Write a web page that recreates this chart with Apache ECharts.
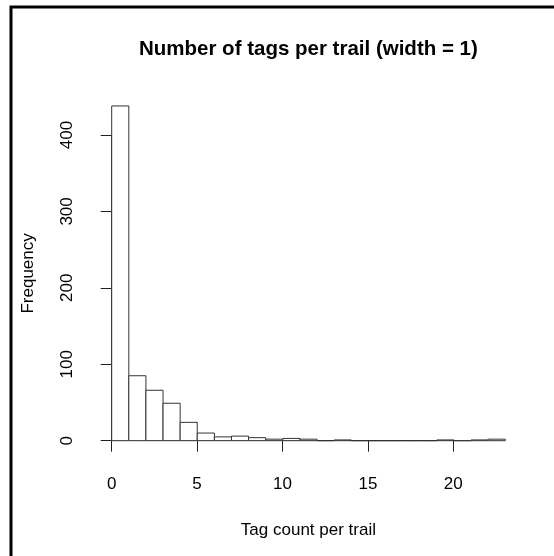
<!DOCTYPE html>
<html><head><meta charset="utf-8">
<script src="https://cdn.jsdelivr.net/npm/echarts@6/dist/echarts.min.js"></script>
<style>html,body{margin:0;padding:0;background:#fff}#c{width:554px;height:556px}</style>
</head><body><div id="c"></div>
<script>
// Histogram data: bins of width 1 starting at these values
const binStarts = [0,1,2,3,4,5,6,7,8,9,10,11,12,13,14,15,16,17,18,19,20,21,22];
const binWidth = 1;
const counts = [438,85,66,49,24,10,5,6,4,2,3,2,0,1,0,0,0,0,0,1,0,1,2];
const xTickValues = [0,5,10,15,20];
const yTickValues = [0,100,200,300,400];
const titleText = 'Number of tags per trail (width = 1)';
const xTitle = 'Tag count per trail';
const yTitle = 'Frequency';

const FONT = "'Liberation Sans', Arial, Helvetica, sans-serif";
const chart = echarts.init(document.getElementById('c'), null, {renderer:'canvas'});
const data = binStarts.map((s,i)=>[s, s+binWidth, counts[i]]);
const xMaxBin = binStarts[binStarts.length-1] + binWidth;

chart.setOption({
  animation:false,
  backgroundColor:'#fff',
  grid:[
    {left:111.7, right:48.7, top:135, bottom:115.3, outerBoundsMode:'none'},
    {left:111.7, right:100.7, top:135, bottom:115.3, outerBoundsMode:'none'}
  ],
  xAxis:[
    {gridIndex:0, type:'value', min:0, max:xMaxBin, show:false},
    {gridIndex:1, type:'value', min:xTickValues[0], max:xTickValues[xTickValues.length-1],
     interval:xTickValues[1]-xTickValues[0], offset:13.4,
     axisLine:{show:true, lineStyle:{color:'#222', width:1}},
     axisTick:{show:true, length:11, lineStyle:{color:'#222', width:1}},
     axisLabel:{show:true, margin:22, fontSize:17, color:'#000', fontFamily:FONT},
     splitLine:{show:false}}
  ],
  yAxis:[
    {gridIndex:0, type:'value', min:yTickValues[0], max:yTickValues[yTickValues.length-1],
     interval:yTickValues[1]-yTickValues[0], offset:15.7,
     axisLine:{show:true, lineStyle:{color:'#222', width:1}},
     axisTick:{show:true, length:11, lineStyle:{color:'#222', width:1}},
     axisLabel:{show:true, rotate:90, margin:20, fontSize:17, color:'#000', fontFamily:FONT},
     splitLine:{show:false}},
    {gridIndex:1, type:'value', min:0, max:400, show:false}
  ],
  series:[{
    type:'custom',
    xAxisIndex:0, yAxisIndex:0,
    clip:false,
    data:data,
    renderItem:function(params, api){
      const p0 = api.coord([api.value(0), 0]);
      const p1 = api.coord([api.value(1), api.value(2)]);
      return {
        type:'rect',
        shape:{x:p0[0], y:p1[1], width:p1[0]-p0[0], height:p0[1]-p1[1]},
        style:{fill:'#fff', stroke:'#333', lineWidth:1}
      };
    }
  }],
  graphic:[
    {type:'text', x:308.4, y:49, style:{text:titleText, font:"bold 20.5px "+FONT, fill:'#000', textAlign:'center', textVerticalAlign:'middle'}},
    {type:'text', x:308.4, y:530, style:{text:xTitle, font:"17px "+FONT, fill:'#000', textAlign:'center', textVerticalAlign:'middle'}},
    {type:'text', x:28, y:273.4, rotation:Math.PI/2, style:{text:yTitle, font:"17px "+FONT, fill:'#000', textAlign:'center', textVerticalAlign:'middle'}},
    {type:'polyline', shape:{points:[[11,570],[11,7],[570,7]]}, style:{fill:'none', stroke:'#000', lineWidth:3}, silent:true}
  ]
});
</script></body></html>
